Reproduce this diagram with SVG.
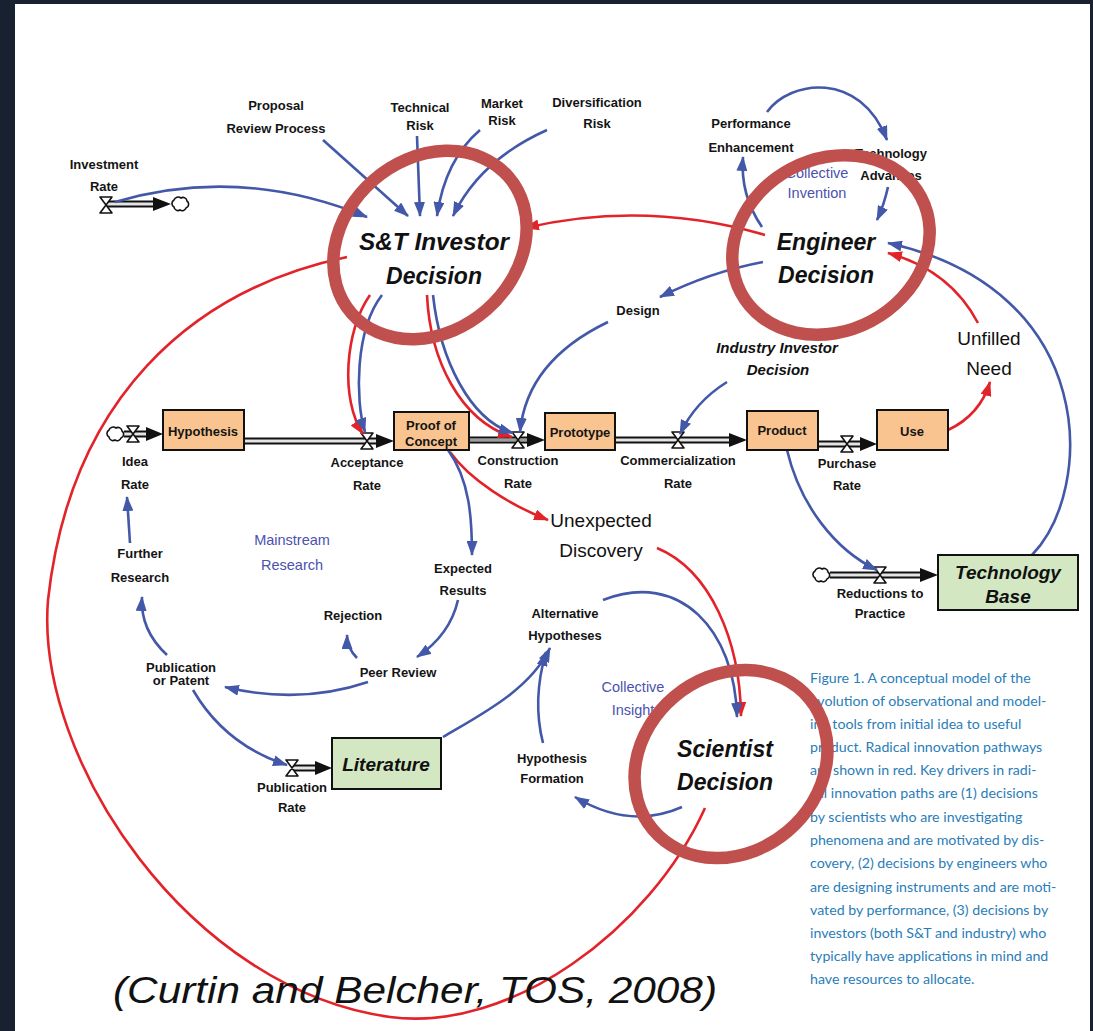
<svg xmlns="http://www.w3.org/2000/svg" width="1093" height="1031" viewBox="0 0 1093 1031">
<style>
  .lbl{font-family:"Liberation Sans",Arial,sans-serif;font-weight:bold;font-size:13px;fill:#141414;text-anchor:middle}
  .dec{font-family:"Liberation Sans",Arial,sans-serif;font-weight:bold;font-style:italic;font-size:23px;fill:#111;text-anchor:middle}
  .inv{font-family:"Liberation Sans",Arial,sans-serif;font-weight:bold;font-style:italic;font-size:15px;fill:#111;text-anchor:middle}
  .big{font-family:"Liberation Sans",Arial,sans-serif;font-size:19px;fill:#111;text-anchor:middle}
  .grp{font-family:"Liberation Sans",Arial,sans-serif;font-size:14.5px;fill:#4b52b0;text-anchor:middle}
  .stk{font-family:"Liberation Sans",Arial,sans-serif;font-weight:bold;font-style:italic;font-size:19px;fill:#111;text-anchor:middle}
  .box{stroke:#111;stroke-width:2}
  .orange{fill:#f9c48f}
  .green{fill:#d2e7c2}
  .lb{fill:none;stroke:#4358a8;stroke-width:2.6;marker-end:url(#ab)}
  .lr{fill:none;stroke:#e3232a;stroke-width:2.6;marker-end:url(#ar)}
  .lrn{fill:none;stroke:#e3232a;stroke-width:2.6}
  .ring{fill:none;stroke:#c0504d;stroke-width:12.5}
  .po{stroke:#111;stroke-width:7;fill:none}
  .pi{stroke:#e4e4e4;stroke-width:3;fill:none}
  .pig{stroke:#9c9c9c;stroke-width:3.5;fill:none}
  .head{fill:#111}
  .cap{font-family:Lato,"Open Sans",sans-serif;font-size:14.2px;fill:#2a7db8}
  .cite{font-family:"Liberation Sans",Arial,sans-serif;font-style:italic;font-size:37px;fill:#111}
</style>
<defs>
  <marker id="ab" viewBox="0 0 15 11" refX="14" refY="5.5" markerWidth="15" markerHeight="11" markerUnits="userSpaceOnUse" orient="auto">
    <path d="M0,0 L15,5.5 L0,11 z" fill="#4358a8"/>
  </marker>
  <marker id="ar" viewBox="0 0 15 11" refX="14" refY="5.5" markerWidth="15" markerHeight="11" markerUnits="userSpaceOnUse" orient="auto">
    <path d="M0,0 L15,5.5 L0,11 z" fill="#e3232a"/>
  </marker>
  <!-- flow valve (hourglass) -->
  <path id="valve" d="M-6,-8 H6 L-6,8 H6 Z" fill="#fff" stroke="#111" stroke-width="1.6" stroke-linejoin="round"/>
  <!-- source / sink cloud -->
  <path id="cloud" d="M-7,3 a4,4 0 0 1 0,-7 a4.5,4.5 0 0 1 7,-2 a4,4 0 0 1 6,3 a4,4 0 0 1 -1,7 a4,4 0 0 1 -6,2 a4,4 0 0 1 -6,-3 z" fill="#fff" stroke="#111" stroke-width="1.6"/>
</defs>

<!-- page frame -->
<rect x="0" y="0" width="1093" height="1031" fill="#17212f"/>
<rect x="15" y="4" width="1075" height="1027" fill="#fff"/>

<!-- connectors -->
<g id="connectors">
  <!-- stock and flow pipes -->
  <g id="pipes">
    <line x1="106" y1="204" x2="155" y2="204" class="po"/><line x1="106" y1="204" x2="155" y2="204" class="pi"/>
    <polygon points="171,204 153,197 153,211" class="head"/>
    <line x1="124" y1="434" x2="148" y2="434" class="po"/><line x1="124" y1="434" x2="148" y2="434" class="pi"/>
    <polygon points="163,434 146,427 146,441" class="head"/>
    <line x1="244" y1="441" x2="378" y2="441" class="po"/><line x1="244" y1="441" x2="378" y2="441" class="pi"/>
    <polygon points="394,441 376,434 376,448" class="head"/>
    <line x1="469" y1="440" x2="530" y2="440" class="po" stroke-width="8"/><line x1="469" y1="440" x2="530" y2="440" class="pig"/>
    <polygon points="545,440 527,433 527,447" class="head"/>
    <line x1="615" y1="440" x2="731" y2="440" class="po"/><line x1="615" y1="440" x2="731" y2="440" class="pi"/>
    <polygon points="747,440 729,433 729,447" class="head"/>
    <line x1="818" y1="444" x2="862" y2="444" class="po"/><line x1="818" y1="444" x2="862" y2="444" class="pi"/>
    <polygon points="877,444 860,437 860,451" class="head"/>
    <line x1="830" y1="575" x2="922" y2="575" class="po"/><line x1="830" y1="575" x2="922" y2="575" class="pi"/>
    <polygon points="938,575 920,568 920,582" class="head"/>
    <line x1="292" y1="768" x2="317" y2="768" class="po"/><line x1="292" y1="768" x2="317" y2="768" class="pi"/>
    <polygon points="332,768 315,761 315,775" class="head"/>
    <use href="#cloud" x="181" y="204"/>
    <use href="#cloud" x="116" y="434"/>
    <use href="#cloud" x="822" y="575"/>
    <use href="#valve" x="106" y="205"/>
    <use href="#valve" x="133" y="434"/>
    <use href="#valve" x="367" y="441"/>
    <use href="#valve" x="518" y="440"/>
    <use href="#valve" x="678" y="440"/>
    <use href="#valve" x="847" y="444"/>
    <use href="#valve" x="880" y="575"/>
    <use href="#valve" x="292" y="768"/>
  </g>

  <!-- radical innovation links -->
  <path class="lrn" d="M347,257 C190,290 70,400 48,600 C35,760 190,990 390,1017 C510,1033 650,930 705,808"/>
  <path class="lr" d="M765,235 Q645,200 525,228"/>
  <path class="lr" d="M978,323 Q950,270 888,253"/>
  <path class="lr" d="M948,430 Q980,415 990,382"/>
  <path class="lr" d="M370,295 C345,330 340,400 363,434"/>
  <path class="lr" d="M427,295 C430,360 460,420 512,437"/>
  <path class="lr" d="M450,452 C470,480 510,505 548,520"/>
  <path class="lr" d="M657,548 C710,570 740,640 741,716"/>

  <!-- causal links -->
  <path class="lb" d="M115,202 Q240,165 367,217"/>
  <path class="lb" d="M323,140 L408,216"/>
  <path class="lb" d="M417,136 L420,216"/>
  <path class="lb" d="M480,130 Q445,160 437,216"/>
  <path class="lb" d="M547,130 Q480,160 453,216"/>
  <path class="lb" d="M767,112 C790,80 860,70 887,140"/>
  <path class="lb" d="M762,227 Q740,195 743,157"/>
  <path class="lb" d="M888,187 Q884,205 877,220"/>
  <path class="lb" d="M763,262 Q710,272 660,297"/>
  <path class="lb" d="M608,322 C560,345 525,380 520,432"/>
  <path class="lb" d="M727,382 Q695,402 680,434"/>
  <path class="lb" d="M1032,555 C1095,490 1100,290 888,243"/>
  <path class="lb" d="M787,450 C800,505 835,550 877,570"/>
  <path class="lb" d="M382,295 C355,330 355,400 365,432"/>
  <path class="lb" d="M433,295 C440,360 470,420 513,433"/>
  <path class="lb" d="M448,450 C470,480 472,520 472,555"/>
  <path class="lb" d="M458,600 Q450,635 417,657"/>
  <path class="lb" d="M357,658 Q347,648 347,635"/>
  <path class="lb" d="M368,682 Q300,705 225,687"/>
  <path class="lb" d="M167,655 Q140,630 142,597"/>
  <path class="lb" d="M130,543 L127,497"/>
  <path class="lb" d="M193,690 Q225,745 287,765"/>
  <path class="lb" d="M443,737 C480,715 530,690 550,648"/>
  <path class="lb" d="M543,743 Q532,700 546,652"/>
  <path class="lb" d="M682,807 Q630,830 575,797"/>
  <path class="lb" d="M603,600 C680,570 735,630 737,717"/>
</g>

<!-- auxiliaries and rates -->
<g id="investment-rate"><text class="lbl" x="104" y="169">Investment</text><text class="lbl" x="104" y="191">Rate</text></g>
<g id="proposal-review"><text class="lbl" x="276" y="110">Proposal</text><text class="lbl" x="276" y="133">Review Process</text></g>
<g id="technical-risk"><text class="lbl" x="420" y="112">Technical</text><text class="lbl" x="420" y="130">Risk</text></g>
<g id="market-risk"><text class="lbl" x="502" y="108">Market</text><text class="lbl" x="502" y="125">Risk</text></g>
<g id="diversification-risk"><text class="lbl" x="597" y="107">Diversification</text><text class="lbl" x="597" y="128">Risk</text></g>
<g id="performance-enhancement"><text class="lbl" x="751" y="128">Performance</text><text class="lbl" x="751" y="152">Enhancement</text></g>
<g id="technology-advances"><text class="lbl" x="891" y="158">Technology</text><text class="lbl" x="891" y="180">Advances</text></g>
<g id="collective-invention"><text class="grp" x="817" y="178">Collective</text><text class="grp" x="817" y="198">Invention</text></g>
<g id="design"><text class="lbl" x="638" y="315">Design</text></g>
<g id="industry-investor"><text class="inv" x="777" y="353">Industry Investor</text><text class="inv" x="778" y="375">Decision</text></g>
<g id="unfilled-need"><text class="big" x="989" y="345">Unfilled</text><text class="big" x="989" y="375">Need</text></g>
<g id="idea-rate"><text class="lbl" x="135" y="466">Idea</text><text class="lbl" x="135" y="489">Rate</text></g>
<g id="acceptance-rate"><text class="lbl" x="367" y="467">Acceptance</text><text class="lbl" x="367" y="490">Rate</text></g>
<g id="construction-rate"><text class="lbl" x="518" y="465">Construction</text><text class="lbl" x="518" y="488">Rate</text></g>
<g id="commercialization-rate"><text class="lbl" x="678" y="465">Commercialization</text><text class="lbl" x="678" y="488">Rate</text></g>
<g id="purchase-rate"><text class="lbl" x="847" y="468">Purchase</text><text class="lbl" x="847" y="490">Rate</text></g>
<g id="reductions-to-practice"><text class="lbl" x="880" y="598">Reductions to</text><text class="lbl" x="880" y="618">Practice</text></g>
<g id="unexpected-discovery"><text class="big" x="601" y="527">Unexpected</text><text class="big" x="601" y="557">Discovery</text></g>
<g id="expected-results"><text class="lbl" x="463" y="573">Expected</text><text class="lbl" x="463" y="595">Results</text></g>
<g id="mainstream-research"><text class="grp" x="292" y="545">Mainstream</text><text class="grp" x="292" y="570">Research</text></g>
<g id="further-research"><text class="lbl" x="140" y="558">Further</text><text class="lbl" x="140" y="582">Research</text></g>
<g id="rejection"><text class="lbl" x="353" y="620">Rejection</text></g>
<g id="peer-review"><text class="lbl" x="398" y="677">Peer Review</text></g>
<g id="publication-or-patent"><text class="lbl" x="181" y="672">Publication</text><text class="lbl" x="181" y="685">or Patent</text></g>
<g id="publication-rate"><text class="lbl" x="292" y="792">Publication</text><text class="lbl" x="292" y="812">Rate</text></g>
<g id="alternative-hypotheses"><text class="lbl" x="565" y="618">Alternative</text><text class="lbl" x="565" y="640">Hypotheses</text></g>
<g id="collective-insight"><text class="grp" x="633" y="692">Collective</text><text class="grp" x="633" y="715">Insight</text></g>
<g id="hypothesis-formation"><text class="lbl" x="552" y="763">Hypothesis</text><text class="lbl" x="552" y="783">Formation</text></g>

<!-- stocks -->
<g id="hypothesis"><rect x="163" y="410" width="81" height="40" class="box orange"/><text class="lbl" x="203" y="436">Hypothesis</text></g>
<g id="proof-of-concept"><rect x="394" y="412" width="75" height="38" class="box orange"/><text class="lbl" x="431" y="430">Proof of</text><text class="lbl" x="431" y="446">Concept</text></g>
<g id="prototype"><rect x="545" y="413" width="70" height="37" class="box orange"/><text class="lbl" x="580" y="437">Prototype</text></g>
<g id="product"><rect x="747" y="411" width="71" height="39" class="box orange"/><text class="lbl" x="782" y="435">Product</text></g>
<g id="use"><rect x="877" y="410" width="71" height="40" class="box orange"/><text class="lbl" x="912" y="436">Use</text></g>
<g id="technology-base"><rect x="938" y="555" width="140" height="55" class="box green"/><text class="stk" x="1008" y="579">Technology</text><text class="stk" x="1008" y="603">Base</text></g>
<g id="literature"><rect x="332" y="738" width="109" height="51" class="box green"/><text class="stk" x="386" y="771">Literature</text></g>

<!-- decision makers -->
<g id="st-investor-decision"><text class="dec" x="434" y="250" textLength="150" lengthAdjust="spacingAndGlyphs">S&amp;T Investor</text><text class="dec" x="434" y="284">Decision</text></g>
<g id="engineer-decision"><text class="dec" x="826" y="250">Engineer</text><text class="dec" x="826" y="283">Decision</text></g>
<g id="scientist-decision"><text class="dec" x="725" y="757">Scientist</text><text class="dec" x="725" y="790">Decision</text></g>

<!-- figure caption -->
<g id="caption">
  <text class="cap" x="810" y="683">Figure 1. A conceptual model of the</text>
  <text class="cap" x="810" y="706">evolution of observational and model-</text>
  <text class="cap" x="810" y="729">ing tools from initial idea to useful</text>
  <text class="cap" x="810" y="752">product. Radical innovation pathways</text>
  <text class="cap" x="810" y="775">are shown in red. Key drivers in radi-</text>
  <text class="cap" x="810" y="798">cal innovation paths are (1) decisions</text>
  <text class="cap" x="810" y="822">by scientists who are investigating</text>
  <text class="cap" x="810" y="845">phenomena and are motivated by dis-</text>
  <text class="cap" x="810" y="868">covery, (2) decisions by engineers who</text>
  <text class="cap" x="810" y="892">are designing instruments and are moti-</text>
  <text class="cap" x="810" y="915">vated by performance, (3) decisions by</text>
  <text class="cap" x="810" y="938">investors (both S&amp;T and industry) who</text>
  <text class="cap" x="810" y="961">typically have applications in mind and</text>
  <text class="cap" x="810" y="984">have resources to allocate.</text>
</g>

<!-- highlight rings around the three decision makers -->
<g id="highlights">
  <ellipse cx="430" cy="245" rx="104" ry="86" transform="rotate(-41 430 245)" class="ring"/>
  <ellipse cx="831" cy="245" rx="102" ry="86" transform="rotate(-28 831 245)" class="ring"/>
  <ellipse cx="731" cy="764" rx="102" ry="88" transform="rotate(-40 731 764)" class="ring"/>
</g>

<g id="citation"><text class="cite" x="113" y="1003" textLength="604" lengthAdjust="spacingAndGlyphs">(Curtin and Belcher, TOS, 2008)</text></g>
</svg>
